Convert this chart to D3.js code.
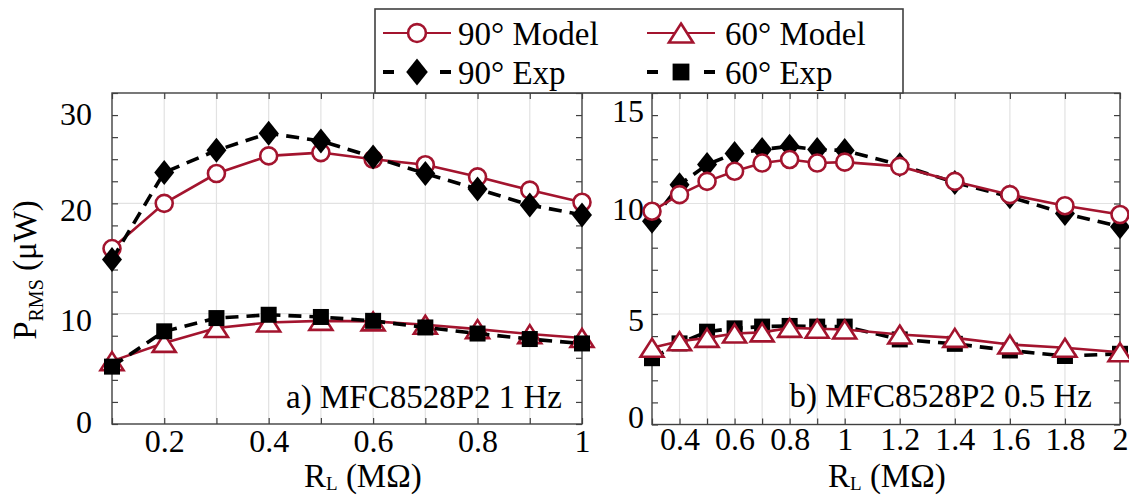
<!DOCTYPE html>
<html><head><meta charset="utf-8">
<script src="https://cdn.jsdelivr.net/npm/d3@7"></script>
<style>
body{margin:0;background:#fff}
svg{display:block}
text{font-family:"Liberation Serif","Times New Roman",serif;fill:#000}
</style>
</head><body>
<svg id="c" width="1129" height="495"></svg>
<script>
// ---------- data ----------
const rL_a = [0.1, 0.2, 0.3, 0.4, 0.5, 0.6, 0.7, 0.8, 0.9, 1.0];
const a_model90 = [15.9, 20.0, 22.7, 24.3, 24.6, 24.0, 23.5, 22.4, 21.2, 20.1];
const a_exp90   = [14.9, 22.8, 24.8, 26.35, 25.65, 24.2, 22.7, 21.3, 19.85, 18.95];
const a_model60 = [5.7, 7.35, 8.7, 9.2, 9.35, 9.3, 9.0, 8.6, 8.15, 7.8];
const a_exp60   = [5.2, 8.4, 9.6, 9.9, 9.7, 9.35, 8.75, 8.2, 7.7, 7.3];

const rL_b = [0.3, 0.4, 0.5, 0.6, 0.7, 0.8, 0.9, 1.0, 1.2, 1.4, 1.6, 1.8, 2.0];
const b_model90 = [9.65, 10.4, 11.0, 11.46, 11.83, 11.99, 11.83, 11.87, 11.68, 11.0, 10.4, 9.9, 9.5];
const b_exp90   = [9.2, 10.85, 11.76, 12.26, 12.44, 12.59, 12.44, 12.4, 11.75, 10.95, 10.3, 9.55, 8.95];
const b_model60 = [3.47, 3.77, 3.92, 4.12, 4.17, 4.37, 4.33, 4.3, 4.07, 3.92, 3.62, 3.47, 3.27];
const b_exp60   = [3.0, 3.67, 4.2, 4.35, 4.43, 4.46, 4.43, 4.43, 3.85, 3.65, 3.35, 3.1, 3.2];

const xLabels_a = [0.2, 0.4, 0.6, 0.8, 1];
const xLabels_b = [0.4, 0.6, 0.8, 1, 1.2, 1.4, 1.6, 1.8, 2];
const yLabels_a = [0, 10, 20, 30];
const yLabels_b = [0, 5, 10, 15];
const seriesNames = ["90° Model", "60° Model", "90° Exp", "60° Exp"];
const panelTitles = ["a) MFC8528P2 1 Hz", "b) MFC8528P2 0.5 Hz"];

// ---------- drawing ----------
const RED = "#a3142e";
const FRAME = "#404040";
const svg = d3.select("#c");
const fmt = d3.format("~g");
const near = (arr, v) => arr.some(a => Math.abs(a - v) < 1e-9);

function marker(g, type, x, y, s = 1) {
  if (type === "circle") {
    g.append("circle").attr("cx", x).attr("cy", y).attr("r", 8.5 * s)
      .attr("fill", "#fff").attr("stroke", RED).attr("stroke-width", 2.6);
  } else if (type === "triangle") {
    const w = 11.5 * s, h = 9 * s;
    g.append("path").attr("d", `M${x},${y - h}L${x + w},${y + h}L${x - w},${y + h}Z`)
      .attr("fill", "#fff").attr("stroke", RED).attr("stroke-width", 2.6).attr("stroke-linejoin", "miter");
  } else if (type === "diamond") {
    const w = 10 * s, h = 12.5 * s;
    g.append("path").attr("d", `M${x},${y - h}L${x + w},${y}L${x},${y + h}L${x - w},${y}Z`).attr("fill", "#000");
  } else if (type === "square") {
    const a = 8 * s;
    g.append("rect").attr("x", x - a).attr("y", y - a).attr("width", 2 * a).attr("height", 2 * a).attr("fill", "#000");
  }
}

function panel(cfg) {
  const x = d3.scaleLinear().domain(cfg.xDomain).range([cfg.x0, cfg.x1]);
  const y = d3.scaleLinear().domain(cfg.yDomain).range([cfg.y1, cfg.y0]);
  const g = svg.append("g");

  // grid
  g.append("g").selectAll("line").data(cfg.xs.filter(v => v > cfg.xDomain[0] && v < cfg.xDomain[1]))
    .join("line").attr("x1", d => x(d)).attr("x2", d => x(d)).attr("y1", cfg.y0).attr("y2", cfg.y1)
    .attr("stroke", "#e2e2e2").attr("stroke-width", 1.2);
  g.append("g").selectAll("line").data(cfg.yLabels.filter(v => v > cfg.yDomain[0] && v < cfg.yDomain[1]))
    .join("line").attr("y1", d => y(d)).attr("y2", d => y(d)).attr("x1", cfg.x0).attr("x2", cfg.x1)
    .attr("stroke", "#e2e2e2").attr("stroke-width", 1.2);

  const minorY = d3.range(cfg.yDomain[0], cfg.yDomain[1] + 1e-9, cfg.yMinor);

  // axes
  const styleAxis = sel => {
    sel.select(".domain").remove();
    sel.selectAll(".tick line").attr("stroke", FRAME).attr("stroke-width", 1.2);
    sel.selectAll("text").attr("font-size", 32).attr("font-family", '"Liberation Serif","Times New Roman",serif').attr("fill", "#000");
  };
  g.append("g").attr("transform", `translate(0,${cfg.y1})`)
    .call(d3.axisBottom(x).tickValues(cfg.xs).tickSize(-6).tickPadding(cfg.xPad)
      .tickFormat(d => near(cfg.xLabels, d) ? fmt(d) : ""))
    .call(styleAxis);
  g.append("g").attr("transform", `translate(0,${cfg.y0})`)
    .call(d3.axisTop(x).tickValues(cfg.xs).tickSize(-6).tickFormat(""))
    .call(styleAxis);
  const la = g.append("g").attr("transform", `translate(${cfg.x0},0)`)
    .call(d3.axisLeft(y).tickValues(minorY).tickSize(-6).tickPadding(cfg.yPad)
      .tickFormat(d => near(cfg.yLabels, d) ? fmt(d) : ""))
    .call(styleAxis);
  la.selectAll(".tick text").attr("transform", d => `translate(0,${cfg.nudge(d)})`);
  g.append("g").attr("transform", `translate(${cfg.x1},0)`)
    .call(d3.axisRight(y).tickValues(minorY).tickSize(-6).tickFormat(""))
    .call(styleAxis);

  // frame
  g.append("rect").attr("x", cfg.x0).attr("y", cfg.y0).attr("width", cfg.x1 - cfg.x0).attr("height", cfg.y1 - cfg.y0)
    .attr("fill", "none").attr("stroke", FRAME).attr("stroke-width", 1.4);

  const line = d3.line();
  const drawModel = (vals, type) => {
    g.append("path").attr("d", line(cfg.xs.map((v, i) => [x(v), y(vals[i])])))
      .attr("fill", "none").attr("stroke", RED).attr("stroke-width", 2.6);
    cfg.xs.forEach((v, i) => marker(g, type, x(v), y(vals[i])));
  };
  const drawExp = (vals, type) => {
    g.append("path").attr("d", line(cfg.xs.map((v, i) => [x(v), y(vals[i])])))
      .attr("fill", "none").attr("stroke", "#000").attr("stroke-width", 3.6).attr("stroke-dasharray", "13,8");
    cfg.xs.forEach((v, i) => marker(g, type, x(v), y(vals[i])));
  };
  if (cfg.expOnTop) {
    drawModel(cfg.m90, "circle"); drawExp(cfg.e90, "diamond");
    drawModel(cfg.m60, "triangle"); drawExp(cfg.e60, "square");
  } else {
    drawExp(cfg.e90, "diamond"); drawModel(cfg.m90, "circle");
    drawExp(cfg.e60, "square"); drawModel(cfg.m60, "triangle");
  }

  g.append("text").attr("x", cfg.titleX).attr("y", cfg.titleY).attr("text-anchor", "end")
    .attr("font-size", 33).text(cfg.title);

  const xl = g.append("text").attr("x", cfg.xLabelX).attr("y", 487).attr("font-size", 33);
  xl.append("tspan").text("R");
  xl.append("tspan").attr("font-size", 19).attr("dy", 3).text("L");
  xl.append("tspan").attr("dy", -3).text(" (MΩ)");
}

panel({
  x0: 112, x1: 582, y0: 93, y1: 424, xDomain: [0.1, 1], yDomain: [0, 30], yMinor: 2,
  xs: rL_a, xLabels: xLabels_a, yLabels: yLabels_a, xPad: 5, yPad: 20,
  nudge: d => d === 30 ? 21 : (d === 0 ? -2 : 7),
  m90: a_model90, e90: a_exp90, m60: a_model60, e60: a_exp60, expOnTop: true,
  title: panelTitles[0], titleX: 562, titleY: 408, xLabelX: 304
});
panel({
  x0: 652, x1: 1120, y0: 93, y1: 424.5, xDomain: [0.3, 2], yDomain: [0, 15], yMinor: 1,
  xs: rL_b, xLabels: xLabels_b, yLabels: yLabels_b, xPad: 3, yPad: 8,
  nudge: d => d === 15 ? 18 : (d === 0 ? -7 : 6),
  m90: b_model90, e90: b_exp90, m60: b_model60, e60: b_exp60, expOnTop: false,
  title: panelTitles[1], titleX: 1092, titleY: 407, xLabelX: 828
});

// y label
const yl = svg.append("text").attr("transform", "translate(36,270) rotate(-90)")
  .attr("text-anchor", "middle").attr("font-size", 33);
yl.append("tspan").text("P");
yl.append("tspan").attr("font-size", 20).attr("dy", 7).text("RMS");
yl.append("tspan").attr("dy", -7).text(" (μW)");

// legend
const lg = svg.append("g");
lg.append("rect").attr("x", 375).attr("y", 9).attr("width", 528).attr("height", 84)
  .attr("fill", "#fff").attr("stroke", FRAME).attr("stroke-width", 1.6);
const legendItems = [
  { name: seriesNames[0], type: "circle", model: true, lx: 383, rowY: 33, tx: 458 },
  { name: seriesNames[1], type: "triangle", model: true, lx: 647, rowY: 33, tx: 725 },
  { name: seriesNames[2], type: "diamond", model: false, lx: 383, rowY: 72, tx: 458 },
  { name: seriesNames[3], type: "square", model: false, lx: 647, rowY: 72, tx: 725 }
];
legendItems.forEach(it => {
  const l = lg.append("line").attr("x1", it.lx).attr("x2", it.lx + 68).attr("y1", it.rowY).attr("y2", it.rowY);
  if (it.model) l.attr("stroke", RED).attr("stroke-width", 2.2);
  else l.attr("stroke", "#000").attr("stroke-width", 4).attr("stroke-dasharray", "11,46");
  marker(lg, it.type, it.lx + 34, it.rowY, it.type === "diamond" ? 1.08 : 1.05);
  lg.append("text").attr("x", it.tx).attr("y", it.rowY + 12).attr("font-size", 33).text(it.name);
});
</script>
</body></html>
